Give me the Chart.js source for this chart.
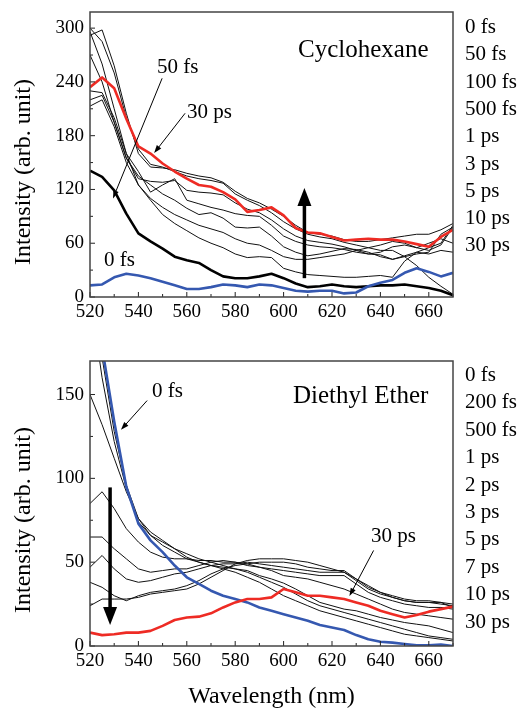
<!DOCTYPE html>
<html>
<head>
<meta charset="utf-8">
<script src="https://cdn.jsdelivr.net/npm/chart.js@4.4.1/dist/chart.umd.min.js"></script>
<style>
  body { margin: 0; background: #fff; }
  #wrap { position: relative; width: 522px; height: 709px; }
  canvas { position: absolute; left: 0; }
</style>
</head>
<body>
<div id="wrap">
  <canvas id="topChart" width="522" height="330" style="top:0"></canvas>
  <canvas id="bottomChart" width="522" height="379" style="top:330px"></canvas>
</div>
<script>
// --- data: wavelength grid (nm) ---
const wavelengths = [520,525,530,535,540,545,550,555,560,565,570,575,580,585,590,595,600,605,610,615,620,625,630,635,640,645,650,655,660,665,670];
const xTicks = [520,540,560,580,600,620,640,660];

// Cyclohexane panel
const cycloTicks = [0,60,120,180,240,300];
const cycloLabels = ['0 fs','50 fs','100 fs','500 fs','1 ps','3 ps','5 ps','10 ps','30 ps'];
const cyclo0fs  = [13,14,22,26,24,21,17,13,9,9,11,14,13,11,14,13,10,7,6,7,7,4,5,12,16,19,27,32,28,23,27];
const cyclo50fs = [141,134,119,93,71,62,54,45,41,38,30,23,21,21,23,26,21,15,11,12,14,12,11,12,13,13,14,12,10,7,2];
const cyclo30ps = [234,245,233,199,168,160,149,140,132,125,123,117,109,95,97,100,91,77,72,71,67,63,64,65,64,64,62,59,56,67,75];
const cycloThin = [
  [300,285,250,200,165,148,145,140,135,132,130,127,115,108,102,94,84,76,70,67,65,61,58,55,52,52,45,35,22,12,3],
  [292,298,258,205,160,145,144,142,138,135,133,128,118,110,105,98,90,80,72,70,68,64,62,62,64,66,68,70,70,75,82],
  [270,240,195,155,132,129,128,130,119,117,116,114,105,98,94,86,76,68,63,61,59,56,52,48,50,56,58,55,52,58,78],
  [230,228,200,160,140,117,125,132,108,104,100,97,93,91,90,80,68,62,58,56,55,53,50,48,47,42,46,50,48,52,50],
  [220,225,195,155,135,125,115,108,99,92,94,88,78,77,78,68,56,50,46,48,51,54,53,50,45,42,45,48,50,70,78],
  [213,220,190,150,125,110,100,92,86,80,76,72,65,60,58,52,45,42,42,44,46,48,52,55,58,62,60,55,60,65,60],
  [296,260,210,160,125,108,92,82,74,66,60,55,48,44,45,44,32,28,25,24,23,22,22,23,24,22,40,50,55,60,80]
];

// Diethyl ether panel
const etherTicks = [0,50,100,150];
const etherLabels = ['0 fs','200 fs','500 fs','1 ps','2 ps','3 ps','5 ps','7 ps','10 ps','30 ps'];
const ether0fs  = [230,178,134,95,73,63,56,48,41,37,33,30,28,26,23,21,19,17,15,12.5,11,9.5,6.5,4,2.5,2,1.2,0.4,0.4,0.8,0];
const ether30ps = [8,6.5,7,8,8,9,12,15.5,17,17.5,19.5,23,26,28,28,29,34,32,30,30,29,28,26,24,21,19,17,18.5,20.5,22,23.5];
const etherThin = [
  [245,172,128,96,76,66,60,56,52,50,48,46,44,41,38,34,30,27,24,21,19,17,15,13,11,9,7,6,5,4,3],
  [210,160,122,94,74,66,62,58,55,52,50,48,46,44,41,38,35,31,27,24,22,20,18,16,14,12,10,8,6,5,4],
  [150,132,112,92,76,68,63,58,53,50,48,47,46,45,42,40,37.5,34,30,26,24,22,21,19,17,15.5,14,13,12,10,8],
  [85,92,82,70,62,56,53,52,52,51,51,50,50,49,47,45,42,41,40,38,36,34,31,28,25,22,20,19,18,17,16],
  [65,65,58,52,46,44,45,46,46,48,50,51,50,48,47,46,45,44,43,42,42,42,37,32,29,27,25,24,23,23,22],
  [47,54,46,40,38,39,41,43,44,46,48,49,49,50,49,48,47,46,45,44,44,44,39,34,31,29,27,26,26,25,24],
  [38,35,30,27,30,32,33,34,36,39,43,46,48,49,50,50,50,49,47,46,45,45,40,35,32,29,27,26,26,26,25],
  [24,28,28,28,29,31,32,33,34,37,41,45,49,51,52,52,52,51,50,48,46,44,40,36,32,30,28,27,27,26,23]
];

const FONT = '"Liberation Serif", "Times New Roman", serif';
const RED = '#ee2b24';
const BLUE = '#3558b0';

function pts(values) {
  return values.map((v, i) => ({ x: wavelengths[i], y: v }));
}

function line(values, color, width, order) {
  return { data: pts(values), borderColor: color, borderWidth: width, pointRadius: 0,
           tension: 0, fill: false, order: order, borderJoinStyle: 'round' };
}

function arrowHead(ctx, x0, y0, x1, y1, len, half) {
  const ang = Math.atan2(y1 - y0, x1 - x0);
  ctx.beginPath();
  ctx.moveTo(x1, y1);
  ctx.lineTo(x1 - len * Math.cos(ang) + half * Math.sin(ang), y1 - len * Math.sin(ang) - half * Math.cos(ang));
  ctx.lineTo(x1 - len * Math.cos(ang) - half * Math.sin(ang), y1 - len * Math.sin(ang) + half * Math.cos(ang));
  ctx.closePath();
  ctx.fill();
}

// frame, inward ticks, arrows and texts
const decor = {
  id: 'decor',
  afterDatasetsDraw(chart, args, o) {
    const { ctx, chartArea: a, scales: { x, y } } = chart;
    ctx.save();
    ctx.strokeStyle = '#222';
    ctx.lineWidth = 1;
    for (let v = x.min; v <= x.max; v += 10) {
      const px = x.getPixelForValue(v);
      const len = (v % 20 === 0) ? 5 : 3;
      ctx.beginPath(); ctx.moveTo(px, a.bottom); ctx.lineTo(px, a.bottom - len); ctx.stroke();
    }
    for (let v = 0; v <= y.max; v += o.yMinor) {
      const py = y.getPixelForValue(v);
      const len = (Math.round(v / o.yMinor) % 2 === 0) ? 5 : 3;
      ctx.beginPath(); ctx.moveTo(a.left, py); ctx.lineTo(a.left + len, py); ctx.stroke();
    }
    ctx.strokeStyle = '#444';
    ctx.lineWidth = 1.5;
    ctx.strokeRect(a.left, a.top, a.right - a.left, a.bottom - a.top);

    ctx.fillStyle = '#000';
    ctx.strokeStyle = '#000';
    o.arrows.forEach(ar => {
      const x0 = x.getPixelForValue(ar.from[0]), y0 = y.getPixelForValue(ar.from[1]);
      const x1 = x.getPixelForValue(ar.to[0]), y1 = y.getPixelForValue(ar.to[1]);
      const big = ar.big;
      const len = big ? 18 : 8, half = big ? 7 : 2.8;
      const ang = Math.atan2(y1 - y0, x1 - x0);
      ctx.lineWidth = big ? 3.5 : 1;
      ctx.beginPath();
      ctx.moveTo(x0, y0);
      ctx.lineTo(x1 - (len - 2) * Math.cos(ang), y1 - (len - 2) * Math.sin(ang));
      ctx.stroke();
      arrowHead(ctx, x0, y0, x1, y1, len, half);
    });

    o.texts.forEach(t => {
      ctx.font = t.size + 'px ' + FONT;
      ctx.textAlign = t.align || 'left';
      ctx.textBaseline = 'alphabetic';
      ctx.fillText(t.t, t.x, t.y);
    });
    o.side.forEach((s, i) => {
      ctx.font = '21px ' + FONT;
      ctx.textAlign = 'left';
      ctx.fillText(s, 465, o.sideTop + i * o.sideStep);
    });
    ctx.translate(24, o.yTitleY);
    ctx.rotate(-Math.PI / 2);
    ctx.font = '24px ' + FONT;
    ctx.textAlign = 'center';
    ctx.textBaseline = 'middle';
    ctx.fillText('Intensity (arb. unit)', 0, 0);
    ctx.restore();
  }
};

function makeChart(id, datasets, yMax, yTicks, yMinor, pad, xAxisH, xTitle, deco) {
  return new Chart(document.getElementById(id), {
    type: 'line',
    data: { datasets },
    plugins: [decor],
    options: {
      responsive: false,
      animation: false,
      events: [],
      layout: { padding: { top: pad, right: 69, left: 0, bottom: 0 } },
      plugins: { legend: { display: false }, tooltip: { enabled: false }, decor: deco },
      scales: {
        x: {
          type: 'linear', min: 520, max: 670,
          grid: { display: false, drawTicks: false }, border: { display: false },
          afterBuildTicks: s => { s.ticks = xTicks.map(v => ({ value: v })); },
          afterFit: s => { s.height = xAxisH; s.paddingLeft = 0; s.paddingRight = 0; },
          ticks: { color: '#000', padding: 4, maxRotation: 0, autoSkip: false,
                   font: { family: FONT, size: 19 } },
          title: xTitle ? { display: true, text: 'Wavelength (nm)', color: '#000', padding: 0,
                            font: { family: FONT, size: 24, lineHeight: 1 } } : { display: false }
        },
        y: {
          min: 0, max: yMax,
          grid: { display: false, drawTicks: false }, border: { display: false },
          afterBuildTicks: s => { s.ticks = yTicks.map(v => ({ value: v })); },
          afterFit: s => { s.width = 90; s.paddingTop = 0; s.paddingBottom = 0; },
          ticks: { color: '#000', padding: 6, autoSkip: false,
                   font: { family: FONT, size: 19 } }
        }
      }
    }
  });
}

const cycloSets = [
  line(cyclo30ps, RED, 2.6, 0),
  line(cyclo0fs, BLUE, 2.6, 1),
  line(cyclo50fs, '#000', 2.6, 2),
  ...cycloThin.map(v => line(v, '#111', 1, 3))
];

makeChart('topChart', cycloSets, 318, cycloTicks, 30, 12, 33, false, {
  yMinor: 30,
  side: cycloLabels, sideTop: 33, sideStep: 27.3,
  yTitleY: 172,
  texts: [
    { t: 'Cyclohexane', x: 298, y: 57, size: 25 },
    { t: '50 fs', x: 157, y: 73, size: 21 },
    { t: '30 ps', x: 187, y: 118, size: 21 },
    { t: '0 fs', x: 104, y: 266, size: 21 }
  ],
  arrows: [
    { from: [549.8, 244], to: [529.5, 110] },
    { from: [559.3, 205], to: [546.5, 160.6] },
    { from: [608.6, 21], to: [608.6, 121.5], big: true }
  ]
});

const etherSets = [
  line(ether30ps, RED, 2.6, 0),
  line(ether0fs, BLUE, 2.6, 1),
  ...etherThin.map(v => line(v, '#111', 1, 3))
];

makeChart('bottomChart', etherSets, 170, etherTicks, 25, 31, 63, true, {
  yMinor: 25,
  side: etherLabels, sideTop: 51, sideStep: 27.4,
  yTitleY: 190,
  texts: [
    { t: 'Diethyl Ether', x: 293, y: 73, size: 25 },
    { t: '0 fs', x: 152, y: 67, size: 21 },
    { t: '30 ps', x: 371, y: 212, size: 21 }
  ],
  arrows: [
    { from: [543.6, 146.4], to: [532.8, 129] },
    { from: [637.2, 57], to: [627.2, 29.8] },
    { from: [528.3, 94.6], to: [528.3, 12.5], big: true }
  ]
});
</script>
</body>
</html>
